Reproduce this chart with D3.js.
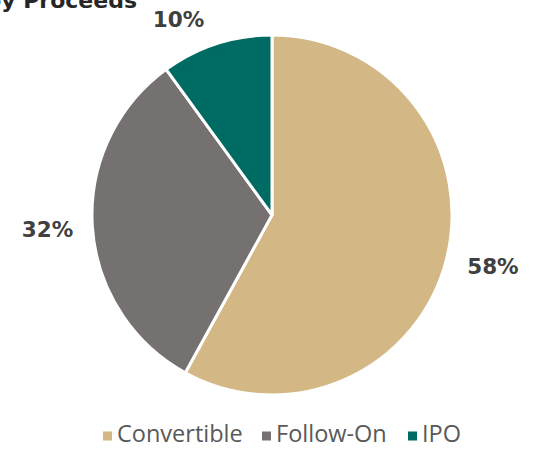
<!DOCTYPE html>
<html><head><meta charset="utf-8">
<script src="https://cdn.jsdelivr.net/npm/d3@7"></script>
<style>body{margin:0;background:#fff}svg{display:block}</style>
</head><body>
<svg id="c" width="539" height="455"></svg>
<script>
const categories = ["Convertible", "Follow-On", "IPO"];
const shares = [58, 32, 10];
const labels = ["58%", "32%", "10%"];
const colors = ["#D3B886", "#767171", "#006B62"];
const title = "Market Share by Proceeds";

const svg = d3.select("#c");
const cx = 272, cy = 215, R = 180;

svg.append("text").attr("x", 137).attr("y", 8).attr("text-anchor", "end")
  .attr("font-family", "DejaVu Sans").attr("font-weight", "bold").attr("font-size", 22)
  .attr("fill", "#262626").text(title);

const pie = d3.pie().sort(null).value(d => d)(shares);
const arc = d3.arc().innerRadius(0).outerRadius(R);
const g = svg.append("g").attr("transform", `translate(${cx},${cy})`);
g.selectAll("path").data(pie).join("path")
  .attr("d", arc).attr("fill", (d, i) => colors[i])
  .attr("stroke", "#fff").attr("stroke-width", 3).attr("stroke-linejoin", "round");

const labelArc = d3.arc().innerRadius(225).outerRadius(225);
const nudge = [[3, -5], [0, 0], [-24, 18]];
g.selectAll("text.lbl").data(pie).join("text").attr("class", "lbl")
  .attr("transform", (d, i) => { const c = labelArc.centroid(d); return `translate(${c[0] + nudge[i][0]},${c[1] + nudge[i][1]})`; })
  .attr("text-anchor", "middle").attr("dy", "0.36em")
  .attr("font-family", "DejaVu Sans").attr("font-weight", "bold").attr("font-size", 21.5)
  .attr("fill", "#404040").text((d, i) => labels[i]);

const leg = svg.append("g").attr("transform", "translate(0,436)");
const xs = [103, 262, 408];
categories.forEach((c, i) => {
  leg.append("rect").attr("x", xs[i]).attr("y", -4.5).attr("width", 9).attr("height", 9).attr("fill", colors[i]);
  leg.append("text").attr("x", xs[i] + 14).attr("y", -2).attr("dy", "0.35em")
    .attr("font-family", "Open Sans").attr("font-size", 23.5).attr("fill", "#595959").text(c);
});
</script>
</body></html>
